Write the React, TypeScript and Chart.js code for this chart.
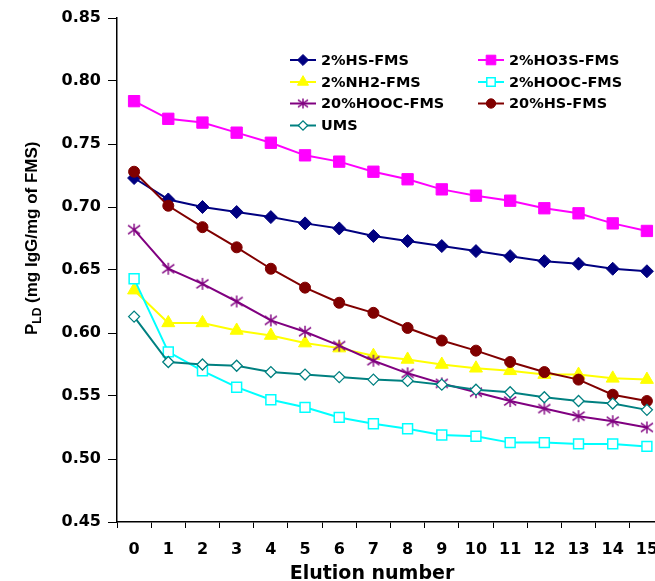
import React, { useEffect, useRef } from "react";
import { Chart, registerables } from "chart.js";
import { drawPoint } from "chart.js/helpers";

Chart.register(...registerables);

// ---- data ----
const categories = ["0", "1", "2", "3", "4", "5", "6", "7", "8", "9", "10", "11", "12", "13", "14", "15"];

const seriesNames = [
  "2%HS-FMS",
  "2%HO3S-FMS",
  "2%NH2-FMS",
  "2%HOOC-FMS",
  "20%HOOC-FMS",
  "20%HS-FMS",
  "UMS",
];

const hs2 = [0.723, 0.706, 0.700, 0.696, 0.692, 0.687, 0.683, 0.677, 0.673, 0.669, 0.665, 0.661, 0.657, 0.655, 0.651, 0.649];
const ho3s2 = [0.784, 0.770, 0.767, 0.759, 0.751, 0.741, 0.736, 0.728, 0.722, 0.714, 0.709, 0.705, 0.699, 0.695, 0.687, 0.681];
const nh2_2 = [0.634, 0.608, 0.608, 0.602, 0.598, 0.592, 0.588, 0.582, 0.579, 0.575, 0.572, 0.570, 0.567, 0.567, 0.564, 0.563];
const hooc2 = [0.643, 0.585, 0.570, 0.557, 0.547, 0.541, 0.533, 0.528, 0.524, 0.519, 0.518, 0.513, 0.513, 0.512, 0.512, 0.510];
const hooc20 = [0.682, 0.651, 0.639, 0.625, 0.610, 0.601, 0.590, 0.578, 0.568, 0.560, 0.553, 0.546, 0.540, 0.534, 0.530, 0.525];
const hs20 = [0.728, 0.701, 0.684, 0.668, 0.651, 0.636, 0.624, 0.616, 0.604, 0.594, 0.586, 0.577, 0.569, 0.563, 0.551, 0.546];
const ums = [0.613, 0.577, 0.575, 0.574, 0.569, 0.567, 0.565, 0.563, 0.562, 0.559, 0.555, 0.553, 0.549, 0.546, 0.544, 0.539];

const seriesValues = [hs2, ho3s2, nh2_2, hooc2, hooc20, hs20, ums];

const yMin = 0.45;
const yMax = 0.85;
const yStep = 0.05;

const xTitle = "Elution number";
const yTitleMain = "P";
const yTitleSub = "LD";
const yTitleRest = " (mg IgG/mg of FMS)";

// ---- styles ----
function makeAsterisk(size: number, color: string, lw: number): HTMLCanvasElement {
  const c = document.createElement("canvas");
  c.width = size;
  c.height = size;
  const g = c.getContext("2d")!;
  const m = size / 2;
  const r = size / 2 - 1;
  g.strokeStyle = color;
  g.lineWidth = lw;
  g.beginPath();
  g.moveTo(m, m - r);
  g.lineTo(m, m + r);
  g.moveTo(m - r, m - r * 0.72);
  g.lineTo(m + r, m + r * 0.72);
  g.moveTo(m - r, m + r * 0.72);
  g.lineTo(m + r, m - r * 0.72);
  g.stroke();
  return c;
}

const seriesStyles: any[] = [
  { color: "#000080", fill: "#000080", style: "rectRot", radius: 6.5, bw: 1 },
  { color: "#FF00FF", fill: "#FF00FF", style: "rect", radius: 8, bw: 1 },
  { color: "#FFFF00", fill: "#FFFF00", style: "triangle", radius: 7.5, bw: 1 },
  { color: "#00FFFF", fill: "#FFFFFF", style: "rect", radius: 7, bw: 1.5 },
  { color: "#800080", fill: "#800080", style: "asterisk", radius: 6.5, bw: 1.4 },
  { color: "#800000", fill: "#800000", style: "circle", radius: 5.5, bw: 1 },
  { color: "#008080", fill: "#FFFFFF", style: "rectRot", radius: 5.5, bw: 1.3 },
];

const TICK_FONT = { family: "'DejaVu Sans', sans-serif", size: 16, weight: "bold" as const };

function resolveStyle(st: any, small: boolean) {
  if (st.style === "asterisk") return makeAsterisk(small ? 12 : 14, st.color, st.bw);
  return st.style;
}

const overlayPlugin = {
  id: "overlay",
  afterDraw(chart: any) {
    const ctx: CanvasRenderingContext2D = chart.ctx;
    // y-axis title with subscript
    ctx.save();
    ctx.translate(37, 335);
    ctx.rotate(-Math.PI / 2);
    ctx.fillStyle = "#000";
    ctx.textAlign = "left";
    ctx.textBaseline = "alphabetic";
    let x = 0;
    ctx.font = "bold 17px 'Liberation Sans', Arial, sans-serif";
    ctx.fillText(yTitleMain, x, 0);
    x += ctx.measureText(yTitleMain).width;
    ctx.font = "bold 12px 'Liberation Sans', Arial, sans-serif";
    ctx.fillText(yTitleSub, x, 4);
    x += ctx.measureText(yTitleSub).width;
    ctx.font = "bold 17px 'Liberation Sans', Arial, sans-serif";
    ctx.fillText(yTitleRest, x, 0);
    ctx.restore();

    // x-axis title
    ctx.save();
    ctx.fillStyle = "#000";
    ctx.font = "bold 19px 'DejaVu Sans', sans-serif";
    ctx.textAlign = "center";
    ctx.textBaseline = "middle";
    ctx.fillText(xTitle, 372, 574);
    ctx.restore();

    // legend, two columns
    const colX = [290, 478];
    const rowY = [60, 82, 103.5, 125.5];
    ctx.save();
    ctx.font = "bold 14.5px 'DejaVu Sans', sans-serif";
    ctx.textBaseline = "middle";
    ctx.textAlign = "left";
    seriesNames.forEach((name, i) => {
      const st = seriesStyles[i];
      const cx = colX[i % 2];
      const cy = rowY[Math.floor(i / 2)];
      ctx.strokeStyle = st.color;
      ctx.lineWidth = 2;
      ctx.beginPath();
      ctx.moveTo(cx, cy);
      ctx.lineTo(cx + 26, cy);
      ctx.stroke();
      ctx.fillStyle = st.fill;
      ctx.strokeStyle = st.color;
      ctx.lineWidth = st.bw;
      drawPoint(
        ctx,
        { pointStyle: resolveStyle(st, true), rotation: 0, radius: st.radius * 0.85, borderWidth: st.bw } as any,
        cx + 13,
        cy
      );
      ctx.fillStyle = "#000";
      ctx.fillText(name, cx + 31, cy + 1);
    });
    ctx.restore();
  },
};

export default function App() {
  const ref = useRef<HTMLCanvasElement>(null);

  useEffect(() => {
    const canvas = ref.current;
    if (!canvas) return;
    const datasets = seriesNames.map((name, i) => {
      const st = seriesStyles[i];
      return {
        label: name,
        data: seriesValues[i],
        borderColor: st.color,
        backgroundColor: st.fill,
        pointBackgroundColor: st.fill,
        pointBorderColor: st.color,
        pointStyle: resolveStyle(st, false),
        pointRadius: st.radius,
        pointBorderWidth: st.bw,
        borderWidth: 2,
        tension: 0,
        fill: false,
        order: seriesNames.length - i,
      };
    });

    const chart = new Chart(canvas, {
      type: "line",
      data: { labels: categories, datasets },
      options: {
        animation: false,
        responsive: false,
        devicePixelRatio: 1,
        layout: { autoPadding: false, padding: { left: 0, right: 0, top: 18, bottom: 0 } },
        plugins: {
          legend: { display: false },
          tooltip: { enabled: false },
        },
        scales: {
          x: {
            type: "category",
            offset: true,
            afterFit: (scale: any) => {
              scale.height = 78;
              scale.paddingLeft = 0;
              scale.paddingRight = 0;
            },
            grid: {
              display: true,
              offset: true,
              drawOnChartArea: false,
              drawTicks: true,
              tickLength: 6,
              color: "#000",
              lineWidth: 1,
            },
            border: { display: true, color: "#000", width: 1.5 },
            ticks: {
              color: "#000",
              font: TICK_FONT,
              autoSkip: false,
              maxRotation: 0,
              minRotation: 0,
              padding: 12,
            },
            title: { display: false },
          },
          y: {
            type: "linear",
            min: yMin,
            max: yMax,
            afterFit: (scale: any) => {
              scale.width = 117;
            },
            grid: {
              display: true,
              drawOnChartArea: false,
              drawTicks: true,
              tickLength: 9,
              color: "#000",
              lineWidth: 1,
            },
            border: { display: true, color: "#000", width: 1.5 },
            ticks: {
              stepSize: yStep,
              color: "#000",
              font: TICK_FONT,
              padding: 7,
              callback: (v: any) => Number(v).toFixed(2),
            },
          },
        },
      },
      plugins: [overlayPlugin],
    });
    return () => chart.destroy();
  }, []);

  return (
    <div
      style={{
        position: "fixed",
        left: 0,
        top: 0,
        width: 655,
        height: 581,
        overflow: "hidden",
        background: "#fff",
      }}
    >
      <canvas ref={ref} width={664} height={600} style={{ display: "block", width: 664, height: 600 }} />
    </div>
  );
}
